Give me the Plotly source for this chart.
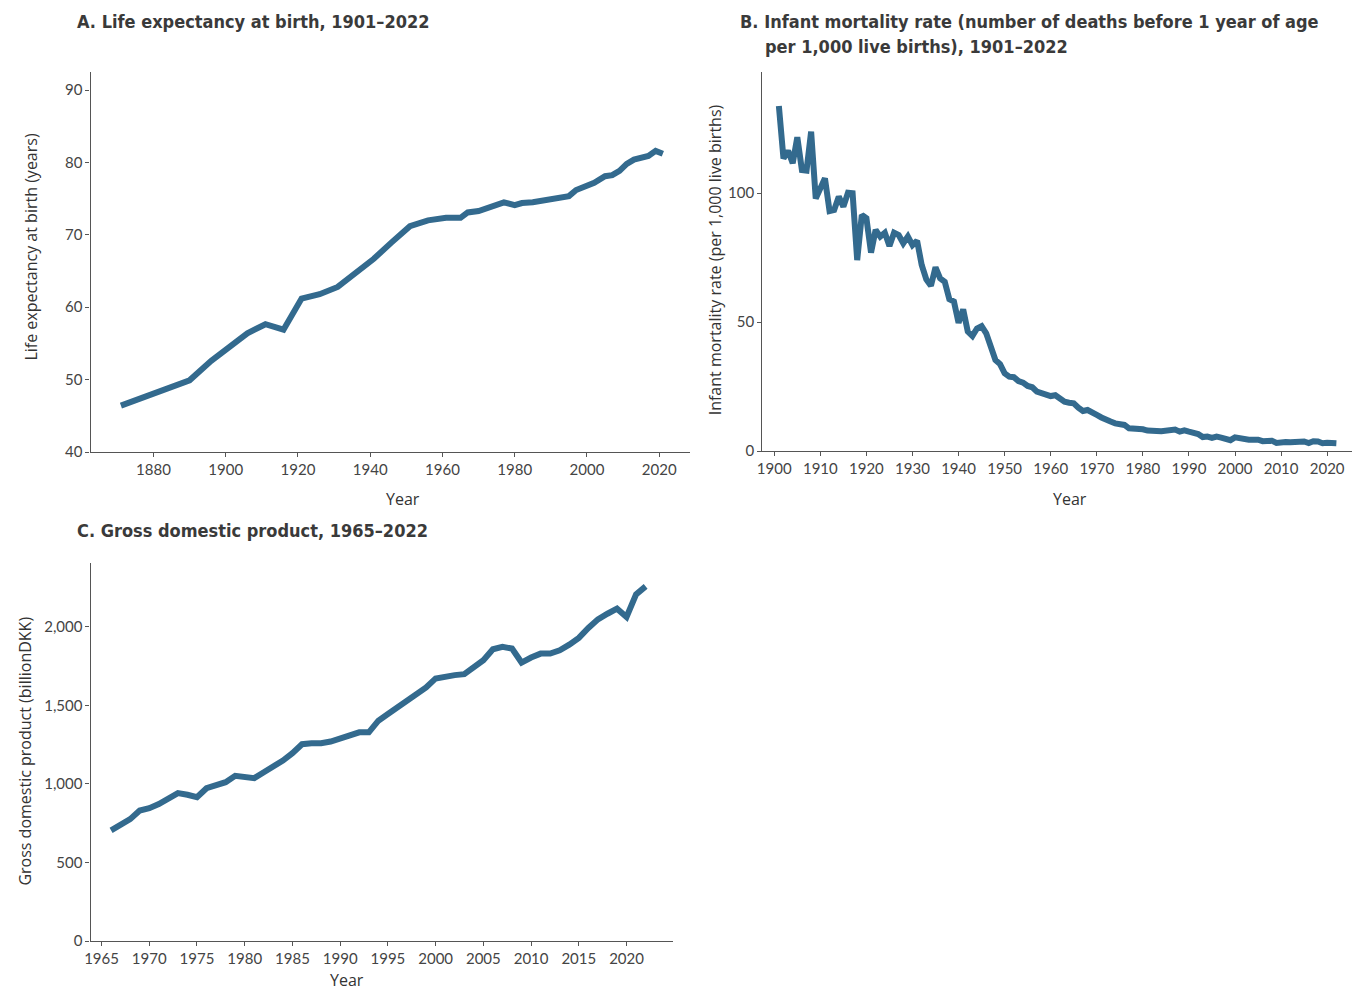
import plotly.graph_objects as go

# Panel A: life expectancy at birth (years)
le_years = [1871, 1880, 1890, 1896, 1901, 1906, 1911, 1916, 1921, 1926, 1931, 1936,
            1941, 1946, 1951, 1956, 1961, 1965, 1967, 1970, 1973, 1975, 1977, 1980,
            1982, 1985, 1987, 1990, 1992, 1995, 1997, 2000, 2002, 2005, 2007, 2009,
            2011, 2013, 2014, 2016, 2017, 2019, 2020, 2021]
le_values = [46.4, 48.0, 49.9, 52.6, 54.6, 56.4, 57.65, 56.9, 61.2, 61.8, 62.8, 64.7,
             66.7, 69.0, 71.2, 72.0, 72.35, 72.35, 73.1, 73.3, 73.8, 74.0, 74.5, 74.1,
             74.4, 74.5, 74.65, 74.9, 75.2, 75.35, 76.2, 76.8, 77.2, 78.1, 78.25, 78.85,
             79.8, 80.4, 80.5, 80.8, 80.9, 81.6, 81.45, 81.2]

# Panel B: infant mortality rate per 1,000 live births, 1901-2022
im_years = list(range(1901, 2023))
im_values = [133.7, 113.4, 116.4, 111.5, 121.6, 108.9, 108.7, 123.8, 97.9, 101.2,
             105.7, 93.0, 93.4, 98.6, 94.7, 100.1, 99.9, 74.0, 91.5, 90.2,
             76.9, 85.7, 83.1, 84.6, 79.5, 84.6, 83.7, 80.5, 83.1, 79.8,
             81.5, 72.1, 66.5, 64.0, 71.2, 66.9, 65.6, 58.8, 57.9, 49.7,
             54.9, 46.3, 44.6, 47.5, 48.4, 45.6, 40.4, 35.3, 33.7, 30.1,
             28.8, 28.6, 27.1, 26.5, 25.2, 24.7, 23.0, 22.4, 22.1, 21.3,
             21.6, 20.0, 19.1, 18.7, 18.5, 16.8, 15.5, 15.9, 14.6, 14.0,
             13.0, 12.0, 11.4, 10.7, 10.5, 10.1, 8.8, 8.8, 8.7, 8.4,
             7.9, 8.1, 7.8, 7.7, 8.0, 8.2, 8.3, 7.5, 8.0, 7.5,
             7.3, 6.6, 5.4, 5.6, 5.1, 5.6, 5.2, 4.7, 4.2, 5.3,
             4.9, 4.4, 4.4, 4.4, 4.4, 3.8, 4.0, 4.0, 3.1, 3.4,
             3.5, 3.4, 3.5, 4.0, 3.7, 3.1, 3.8, 3.7, 3.0, 3.2,
             3.1, 3.0]

# Panel C: gross domestic product (billion DKK), 1966-2022
gdp_years = list(range(1966, 2023))
gdp_values = [705, 736, 776, 831, 846, 872, 906, 942, 931, 916,
              973, 990, 1011, 1052, 1045, 1037, 1075, 1107, 1149, 1196,
              1253, 1259, 1259, 1270, 1287, 1306, 1329, 1329, 1403, 1445,
              1488, 1534, 1570, 1614, 1672, 1686, 1693, 1699, 1741, 1788,
              1858, 1873, 1862, 1773, 1805, 1830, 1830, 1851, 1887, 1930,
              1993, 2048, 2084, 2116, 2063, 2207, 2258]

LINE = "#336a8e"
AXIS = "#555555"
TEXT = "#444444"
TICK_FONT = dict(family="Lato, Open Sans, sans-serif", size=15, color=TEXT)
TITLE_FONT = dict(family="DejaVu Sans Condensed, Roboto, sans-serif", size=18, color="#3a3a3a")
LABEL_FONT = dict(family="Open Sans, sans-serif", size=16, color="#333333")

W, H = 1359, 992
YS = 992 / 984          # vertical layout factor
X0, XS = 5.4, 0.996     # horizontal layout offset / factor


def px_x(p):
    return min(1.0, max(0.0, (p - X0) / XS / W))


def px_y(p):
    return max(0.0, 1 - p * YS / H)


fig = go.Figure()
fig.add_trace(go.Scatter(x=le_years, y=le_values, mode="lines",
                         line=dict(color=LINE, width=6), xaxis="x", yaxis="y",
                         showlegend=False))
fig.add_trace(go.Scatter(x=im_years, y=im_values, mode="lines",
                         line=dict(color=LINE, width=6), xaxis="x2", yaxis="y2",
                         showlegend=False))
fig.add_trace(go.Scatter(x=gdp_years, y=gdp_values, mode="lines",
                         line=dict(color=LINE, width=6), xaxis="x3", yaxis="y3",
                         showlegend=False))

axis_common = dict(showline=True, linecolor=AXIS, linewidth=1.3, ticks="outside",
                   ticklen=4, tickcolor=AXIS, tickwidth=1, showgrid=False,
                   zeroline=False, tickfont=TICK_FONT)

fig.update_layout(
    width=W, height=H, margin=dict(l=0, r=0, t=0, b=0),
    paper_bgcolor="white", plot_bgcolor="white",
    xaxis=dict(domain=[px_x(90), px_x(690)], anchor="y", range=[1862.6, 2028.6],
               tickvals=[1880, 1900, 1920, 1940, 1960, 1980, 2000, 2020], **axis_common),
    yaxis=dict(domain=[px_y(452), px_y(72)], anchor="x", range=[40, 92.5],
               tickvals=[40, 50, 60, 70, 80, 90], **axis_common),
    xaxis2=dict(domain=[px_x(762), px_x(1352)], anchor="y2", range=[1897.4, 2025.4],
                tickvals=list(range(1900, 2021, 10)), **axis_common),
    yaxis2=dict(domain=[px_y(451), px_y(72)], anchor="x2", range=[0, 146.9],
                tickvals=[0, 50, 100], **axis_common),
    xaxis3=dict(domain=[px_x(90), px_x(673)], anchor="y3", range=[1963.85, 2024.9],
                tickvals=list(range(1965, 2021, 5)), **axis_common),
    yaxis3=dict(domain=[px_y(941), px_y(563)], anchor="x3", range=[0, 2407],
                tickvals=[0, 500, 1000, 1500, 2000], tickformat=",d", **axis_common),
)

annotations = [
    # panel titles
    dict(text="<b>A. Life expectancy at birth, 1901–2022</b>", x=px_x(74), y=px_y(22),
         xanchor="left", yanchor="middle", font=TITLE_FONT),
    dict(text="<b>B. Infant mortality rate (number of deaths before 1 year of age</b>",
         x=px_x(738), y=px_y(22), xanchor="left", yanchor="middle", font=TITLE_FONT),
    dict(text="<b>per 1,000 live births), 1901–2022</b>",
         x=px_x(763), y=px_y(47), xanchor="left", yanchor="middle", font=TITLE_FONT),
    dict(text="<b>C. Gross domestic product, 1965–2022</b>", x=px_x(74), y=px_y(531),
         xanchor="left", yanchor="middle", font=TITLE_FONT),
    # axis titles
    dict(text="Year", x=px_x(403), y=px_y(499), xanchor="center", yanchor="middle",
         font=LABEL_FONT),
    dict(text="Year", x=px_x(1070), y=px_y(499), xanchor="center", yanchor="middle",
         font=LABEL_FONT),
    dict(text="Year", x=px_x(347), y=px_y(980), xanchor="center", yanchor="middle",
         font=LABEL_FONT),
    dict(text="Life expectancy at birth (years)", x=px_x(30), y=px_y(247),
         xanchor="center", yanchor="middle", textangle=-90, font=LABEL_FONT),
    dict(text="Infant mortality rate (per 1,000 live births)", x=px_x(715), y=px_y(260),
         xanchor="center", yanchor="middle", textangle=-90, font=LABEL_FONT),
    dict(text="Gross domestic product (billionDKK)", x=px_x(24), y=px_y(751),
         xanchor="center", yanchor="middle", textangle=-90, font=LABEL_FONT),
]
for a in annotations:
    a.update(xref="paper", yref="paper", showarrow=False)
fig.update_layout(annotations=annotations)

fig.write_html("out.html")
